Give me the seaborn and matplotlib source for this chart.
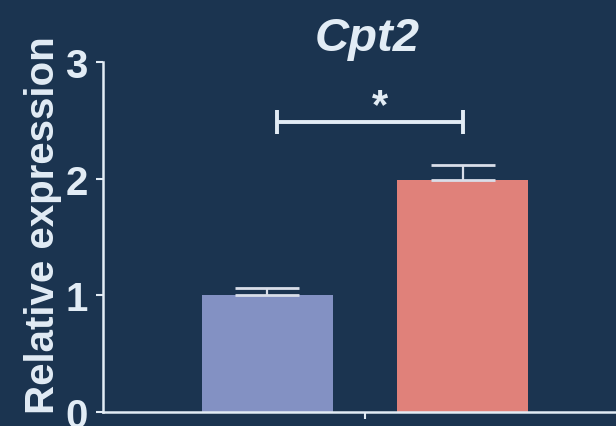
import matplotlib
matplotlib.use("Agg")
import matplotlib.pyplot as plt
import seaborn as sns
import pandas as pd

# Data
gene = "Cpt2"
groups = ["Control", "Treated"]
means = [1.00, 1.99]
sems = [0.06, 0.13]
y_ticks = [0, 1, 2, 3]
significance = "*"

BG = "#1b3450"
FG = "#e2ecf5"
bar_colors = ["#8391c3", "#e0817a"]

sns.set_theme(style="ticks")
plt.rcParams["font.family"] = ["Liberation Sans", "DejaVu Sans"]

df = pd.DataFrame({"gene": [gene] * len(groups), "group": groups, "value": means})

fig = plt.figure(figsize=(6.16, 4.27), dpi=100, facecolor=BG)
ax = fig.add_axes([0.1672, 0.0328, 0.8506, 0.8197])
ax.set_facecolor(BG)

sns.barplot(data=df, x="gene", y="value", hue="group", palette=bar_colors,
            width=0.8, gap=0.33, errorbar=None, legend=False, ax=ax,
            saturation=1, edgecolor="none", zorder=2)

# Upper-only error bars, drawn at the bar centres
centers = [p.get_x() + p.get_width() / 2 for p in ax.patches]
for cx, m, e in zip(centers, means, sems):
    ax.errorbar(cx, m, yerr=[[0], [e]], fmt="none", ecolor="#d9dee9",
                elinewidth=1.6, capsize=23, capthick=2.0, zorder=3)

# Significance bracket
y_sig = 2.485
x0, x1 = centers[0] + 0.02, centers[1]
ax.plot([x0, x1], [y_sig, y_sig], color=FG, lw=2.8, solid_capstyle="butt",
        zorder=4, clip_on=False)
for xx in (x0, x1):
    ax.plot([xx, xx], [y_sig - 0.1, y_sig + 0.1], color=FG, lw=2.8,
            solid_capstyle="butt", zorder=4, clip_on=False)
ax.text((centers[0] + centers[1]) / 2 + 0.03, 2.53, significance, color=FG,
        fontsize=30, fontweight="bold", ha="center", va="baseline")

ax.set_xlim(-0.537, 0.537)
ax.set_ylim(0, 3)
ax.set_yticks(y_ticks)
ax.set_yticklabels([str(t) for t in y_ticks], fontsize=29, fontweight="bold", color=FG)
ax.set_xticks([0])
ax.set_xticklabels([""])
ax.set_xlabel("")
ax.set_ylabel("Relative expression", fontsize=29, fontweight="bold", color=FG)
ax.yaxis.set_label_coords(-0.078, 0.537)

for side in ("top", "right"):
    ax.spines[side].set_visible(False)
for side in ("left", "bottom"):
    ax.spines[side].set_color(FG)
    ax.spines[side].set_linewidth(1.8)
ax.tick_params(axis="y", colors=FG, length=5, width=1.5, pad=6)
ax.tick_params(axis="x", colors=FG, length=5, width=1.5)

fig.text(367 / 616, 1 - 51 / 427, gene, color=FG, fontsize=34,
         fontweight="bold", fontstyle="italic", ha="center", va="baseline")

fig.savefig("out.png", dpi=100, facecolor=BG)
